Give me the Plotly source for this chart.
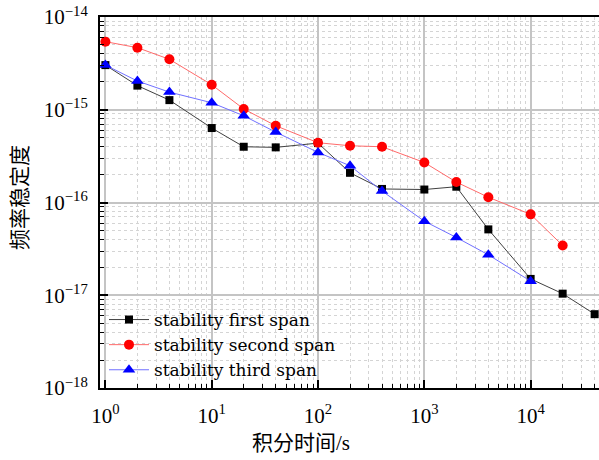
import numpy as np
import plotly.graph_objects as go

# ---- data ----
tau_first = [1, 2, 4, 10, 20, 40, 100, 200, 400, 1000, 2000, 4000, 10000, 20000, 40000]
adev_first = [3.03e-15, 1.82e-15, 1.27e-15, 6.35e-16, 3.99e-16, 3.93e-16, 4.37e-16,
              2.09e-16, 1.40e-16, 1.38e-16, 1.48e-16, 5.13e-17, 1.50e-17, 1.04e-17, 6.25e-18]

tau_second = [1, 2, 4, 10, 20, 40, 100, 200, 400, 1000, 2000, 4000, 10000, 20000]
adev_second = [5.42e-15, 4.67e-15, 3.50e-15, 1.86e-15, 1.02e-15, 6.72e-16, 4.41e-16,
               4.09e-16, 3.99e-16, 2.70e-16, 1.66e-16, 1.14e-16, 7.45e-17, 3.44e-17]

tau_third = [1, 2, 4, 10, 20, 40, 100, 200, 400, 1000, 2000, 4000, 10000]
adev_third = [3.03e-15, 2.04e-15, 1.55e-15, 1.19e-15, 8.61e-16, 5.74e-16, 3.47e-16,
              2.49e-16, 1.33e-16, 6.29e-17, 4.20e-17, 2.73e-17, 1.42e-17]

names = ["stability first span", "stability second span", "stability third span"]

x_tickvals = [1, 10, 100, 1000, 10000]
x_ticktext = ["10<sup>0</sup>", "10<sup>1</sup>", "10<sup>2</sup>", "10<sup>3</sup>", "10<sup>4</sup>"]
y_tickvals = [1e-18, 1e-17, 1e-16, 1e-15, 1e-14]
y_ticktext = ["10<sup>\u221218</sup>", "10<sup>\u221217</sup>", "10<sup>\u221216</sup>",
              "10<sup>\u221215</sup>", "10<sup>\u221214</sup>"]

x_title = "积分时间/s"
y_title = "频率稳定度"

# minor tick positions (2..9 in each decade)
x_minor = [k * 10.0 ** d for d in range(0, 5) for k in range(2, 10)]
y_minor = [k * 10.0 ** d for d in range(-18, -14) for k in range(2, 10)]

FONT = "Liberation Serif, Times New Roman, Noto Sans CJK SC, serif"
LEGFONT = "DejaVu Serif, serif"

fig = go.Figure()
fig.add_trace(go.Scatter(x=tau_first, y=adev_first, name=names[0], mode="lines+markers",
                         line=dict(color="#404040", width=1),
                         marker=dict(symbol="square", size=8, color="black")))
fig.add_trace(go.Scatter(x=tau_second, y=adev_second, name=names[1], mode="lines+markers",
                         line=dict(color="#ff6a6a", width=1),
                         marker=dict(symbol="circle", size=10, color="#ff0000")))
fig.add_trace(go.Scatter(x=tau_third, y=adev_third, name=names[2], mode="lines+markers",
                         line=dict(color="#7070ff", width=1),
                         marker=dict(symbol="triangle-up", size=11, color="#0000ff")))

fig.update_layout(
    width=599, height=460,
    margin=dict(l=100, r=0, t=17, b=72, autoexpand=False),
    paper_bgcolor="white", plot_bgcolor="white",
    font=dict(family=FONT, color="black", size=20),
    showlegend=True,
    legend=dict(x=4 / 499, y=0.0, xanchor="left", yanchor="bottom",
                bgcolor="rgba(0,0,0,0)", font=dict(family=LEGFONT, size=17),
                itemwidth=40, tracegroupgap=0),
    xaxis=dict(type="log", range=[-0.0508, 4.643], automargin=False,
               tickmode="array", tickvals=x_tickvals, ticktext=x_ticktext,
               showline=True, linecolor="black", linewidth=2, mirror=True,
               ticks="inside", ticklen=8, tickwidth=1.5, tickcolor="black",
               showgrid=True, gridcolor="#c4c4c4", gridwidth=1.5,
               minor=dict(tickmode="array", tickvals=x_minor,
                          ticks="inside", ticklen=4, tickwidth=1, tickcolor="black",
                          showgrid=True, gridcolor="#d4d4d4", griddash="dot", gridwidth=1),
               ticklabelstandoff=8, zeroline=False,
               tickfont=dict(family=FONT, size=21)),
    yaxis=dict(type="log", range=[-18, -14], automargin=False,
               tickmode="array", tickvals=y_tickvals, ticktext=y_ticktext,
               showline=True, linecolor="black", linewidth=2, mirror=False,
               ticks="inside", ticklen=8, tickwidth=1.5, tickcolor="black",
               showgrid=True, gridcolor="#c4c4c4", gridwidth=1.5,
               minor=dict(tickmode="array", tickvals=y_minor,
                          ticks="inside", ticklen=4, tickwidth=1, tickcolor="black",
                          showgrid=True, gridcolor="#d4d4d4", griddash="dot", gridwidth=1),
               ticklabelstandoff=6, zeroline=False,
               tickfont=dict(family=FONT, size=21)),
    annotations=[
        dict(text=x_title, xref="paper", yref="paper", x=(301 - 100) / 499, y=-(443 - 388) / 371,
             xanchor="center", yanchor="middle", showarrow=False,
             font=dict(family=FONT, size=21)),
        dict(text=y_title, xref="paper", yref="paper", x=-(100 - 20) / 499, y=(388 - 198) / 371,
             xanchor="center", yanchor="middle", showarrow=False, textangle=-90,
             font=dict(family=FONT, size=21)),
    ],
)

fig.write_html("out.html", config={"displayModeBar": False},
               post_script="document.body.style.margin='0';document.body.style.overflow='hidden';")
